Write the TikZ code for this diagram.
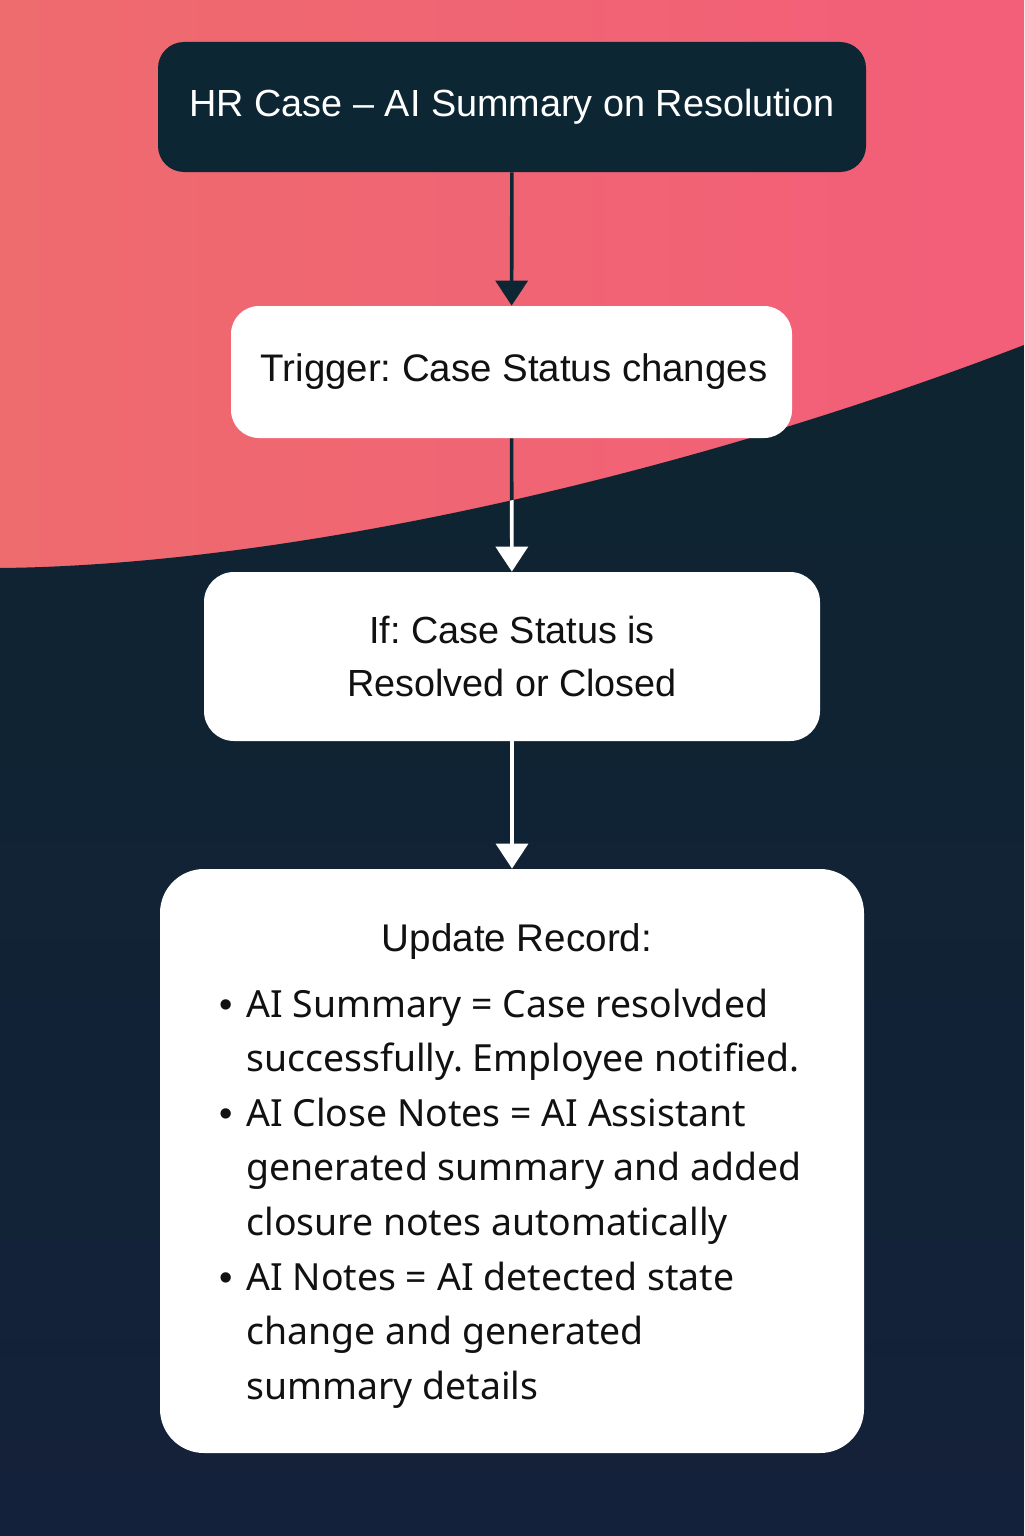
\documentclass[tikz,border=0pt]{standalone}
\usepackage{fontspec}
\setmainfont{Liberation Sans}
\newfontfamily\listfont{Noto Sans}
\usetikzlibrary{arrows.meta}
\definecolor{pinkL}{HTML}{EE6B6E}
\definecolor{pinkR}{HTML}{F35E79}
\definecolor{navyT}{HTML}{0E2430}
\definecolor{navyB}{HTML}{14213A}
\definecolor{boxdark}{HTML}{0C2733}
\definecolor{ink}{HTML}{111111}
\frenchspacing
\newcommand{\bul}{\makebox[20pt]{\rmfamily\fontsize{19}{19}\selectfont •}}
\begin{document}
\begin{tikzpicture}[x=0.5pt,y=-0.5pt,
  box/.style={inner sep=0pt, align=center, draw=none},
  darkbox/.style={box, fill=boxdark, text=white},
  whitebox/.style={box, fill=white, text=ink},
  conn/.style={line width=1.8pt, -{Triangle[width=16pt,length=12.5pt]}}]
\useasboundingbox (0,0) rectangle (1024,1536);
% background
\shade[left color=pinkL,right color=pinkR] (0,0) rectangle (1024,1536);
\shade[top color=navyT,bottom color=navyB]
  (0,568) .. controls (300,565) and (700,470) .. (1024,345) -- (1024,1536) -- (0,1536) -- cycle;
% boxes
\node[darkbox, minimum width=354pt, minimum height=65pt, rounded corners=13pt,
      font=\fontsize{18.9}{23}\selectfont] (title) at (512,107) {HR Case – AI Summary on Resolution};
\node[whitebox, minimum width=280.5pt, minimum height=66pt, rounded corners=14pt,
      font=\fontsize{19.2}{22}\selectfont] (trig) at (511.5,372) {};
\node[box, text=ink, font=\fontsize{19.2}{22}\selectfont] (trigtxt) at (514,372) {Trigger: Case Status changes};
\node[whitebox, minimum width=308pt, minimum height=84.5pt, rounded corners=15pt,
      font=\fontsize{18.9}{26.5}\selectfont] (cond) at (512,656.5) {If: Case Status is\\Resolved or Closed};
\node[whitebox, minimum width=352pt, minimum height=292pt, rounded corners=22pt] (upd) at (512,1161) {};
\node[box, text=ink, font=\fontsize{19.3}{22}\selectfont] (updhead) at (517,942) {Update Record:};
\node[box, text=ink, anchor=base west, align=left, font=\listfont\fontsize{18.7}{27.3}\selectfont] (updlist) at (206,1017)
 {\begin{tabular}[t]{@{}l@{}l@{}}
 \bul & AI Summary = Case resolvded\\
  & successfully. Employee notified.\\
 \bul & AI Close Notes = AI Assistant\\
  & generated summary and added\\
  & closure notes automatically\\
 \bul & AI Notes = AI detected state\\
  & change and generated\\
  & summary details
 \end{tabular}};
% connectors
\draw[conn, draw=boxdark, fill=boxdark] (title) -- (trig);
\draw[conn, draw=boxdark] (trig) -- (cond);
\begin{scope}
  \clip (0,568) .. controls (300,565) and (700,470) .. (1024,345) -- (1024,1536) -- (0,1536) -- cycle;
  \draw[conn, draw=white, fill=white] (trig) -- (cond);
\end{scope}
\draw[conn, draw=white, fill=white] (cond) -- (upd);
\end{tikzpicture}
\end{document}
